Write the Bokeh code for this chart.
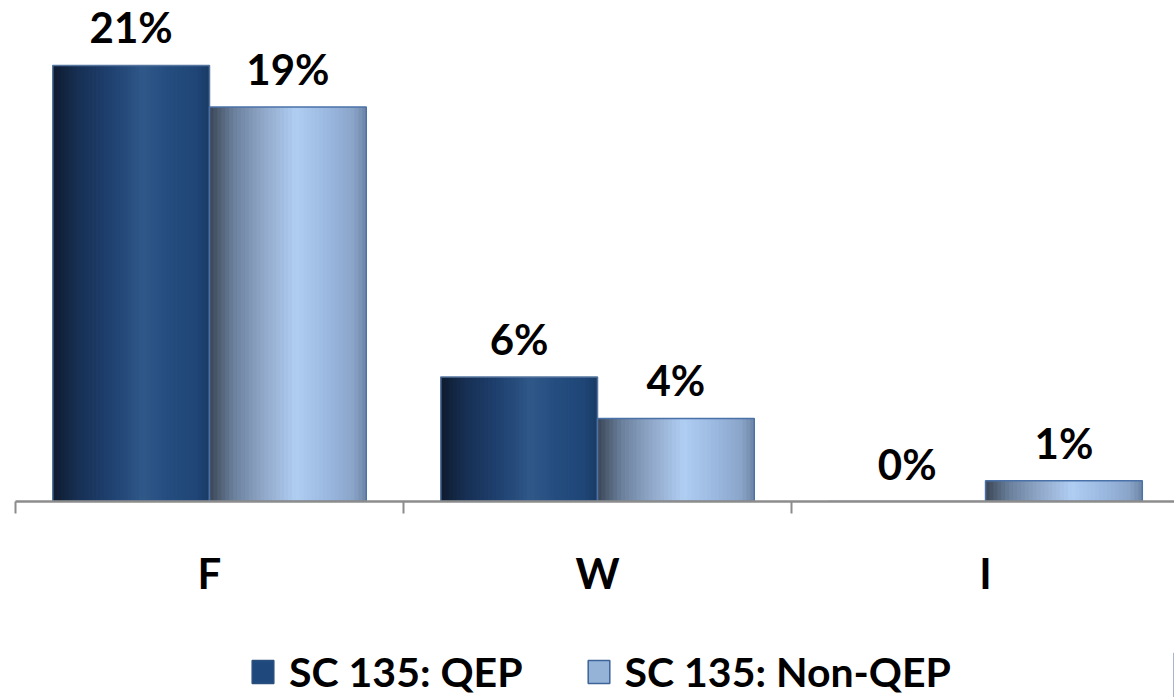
import numpy as np
from bokeh.plotting import figure
from bokeh.layouts import column
from bokeh.models import Range1d, FixedTicker, Legend, LegendItem, ColumnDataSource
from bokeh.core.properties import value
from bokeh.embed import file_html
from bokeh.resources import INLINE

# ---- data ----
categories = ["F", "W", "I"]
series_names = ["SC 135: QEP", "SC 135: Non-QEP"]
qep = [21, 6, 0]
non_qep = [19, 4, 1]
qep_labels = ["21%", "6%", "0%"]
non_qep_labels = ["19%", "4%", "1%"]

# ---- style ----
BAR_W = 0.404
N_STRIPS = 40
FONT = value("Lato")
qep_stops = [(0.0, "#0e1a2e"), (0.15, "#172f52"), (0.38, "#1f4271"), (0.58, "#30598a"),
             (0.72, "#254d7f"), (0.92, "#1f4677"), (1.0, "#1a3a64")]
non_stops = [(0.0, "#3b4656"), (0.15, "#6a7f9b"), (0.35, "#91a9ca"), (0.55, "#b0cdf2"),
             (0.75, "#9bb8e0"), (0.92, "#8aa4c8"), (1.0, "#6c85a6")]


def hex2rgb(h):
    return np.array([int(h[i:i + 2], 16) for i in (1, 3, 5)], dtype=float)


def gradient(stops, n):
    pos = np.array([s[0] for s in stops])
    cols = np.array([hex2rgb(s[1]) for s in stops])
    t = (np.arange(n) + 0.5) / n
    out = []
    for tt in t:
        rgb = [np.interp(tt, pos, cols[:, c]) for c in range(3)]
        out.append("#%02x%02x%02x" % tuple(int(round(v)) for v in rgb))
    return out


centers = np.arange(len(categories)) + 0.5
qep_x = centers - BAR_W / 2
non_x = centers + BAR_W / 2

p = figure(width=1174, height=608, output_backend="svg", toolbar_location=None,
           x_range=Range1d(0, 2.987), y_range=Range1d(0, 24.13),
           min_border_left=15, min_border_right=0, min_border_top=0, min_border_bottom=107)
p.outline_line_color = None
p.grid.visible = False
p.yaxis.visible = False


def draw_series(xs, vals, stops, outline_color):
    cols = gradient(stops, N_STRIPS)
    sl, sr, st, sc = [], [], [], []
    sw = BAR_W / N_STRIPS
    for x0, v in zip(xs, vals):
        left = x0 - BAR_W / 2
        right = x0 + BAR_W / 2
        for k in range(N_STRIPS):
            sl.append(left + k * sw)
            sr.append(min(left + (k + 2) * sw, right))
            st.append(v)
            sc.append(cols[k])
    src = ColumnDataSource(dict(left=sl, right=sr, top=st, color=sc))
    p.quad(left="left", right="right", top="top", bottom=0, fill_color="color",
           line_color=None, source=src)
    p.vbar(x=list(xs), top=vals, width=BAR_W, bottom=0, fill_color=None,
           line_color=outline_color, line_width=1.5)


draw_series(qep_x, qep, qep_stops, "#56769f")
draw_series(non_x, non_qep, non_stops, "#4a72a8")

# value labels
for xs, vals, labs in ((qep_x, qep, qep_labels), (non_x, non_qep, non_qep_labels)):
    p.text(x=list(xs), y=vals, text=labs, text_align="center",
           text_baseline="alphabetic", y_offset=-38, text_font=FONT,
           text_font_style="bold", text_font_size="42px", text_color="black")

ax = p.xaxis[0]
ax.ticker = FixedTicker(ticks=list(centers), minor_ticks=list(range(len(categories) + 1)))
ax.major_label_overrides = {float(c): lab for c, lab in zip(centers, categories)}
ax.major_tick_line_color = None
ax.minor_tick_line_color = "#8c8c8c"
ax.minor_tick_line_width = 2
ax.minor_tick_out = 12
ax.minor_tick_in = 0
ax.axis_line_color = "#8c8c8c"
ax.axis_line_width = 2.5
ax.major_label_standoff = 34
ax.major_label_text_font = "Lato"
ax.major_label_text_font_style = "bold"
ax.major_label_text_font_size = "42px"
ax.major_label_text_color = "black"

# legend figure
p2 = figure(width=1174, height=89, output_backend="svg", toolbar_location=None,
            x_range=Range1d(0, 1), y_range=Range1d(0, 1),
            min_border_left=0, min_border_right=0, min_border_top=0, min_border_bottom=0)
p2.axis.visible = False
p2.grid.visible = False
p2.outline_line_color = None
hidden = ColumnDataSource(dict(x=[5.0], top=[0.5]))
r_qep = p2.vbar(x="x", top="top", width=0.1, source=hidden,
                fill_color="#1f497d", line_color="#2a4f7f", line_width=1.5)
r_non = p2.vbar(x="x", top="top", width=0.1, source=hidden,
                fill_color="#95b3d7", line_color="#3d6399", line_width=1.5)
legend = Legend(items=[LegendItem(label=series_names[0], renderers=[r_qep]),
                       LegendItem(label=series_names[1], renderers=[r_non])],
                orientation="horizontal", location=(234, 1),
                glyph_width=27, glyph_height=29, label_standoff=13, spacing=62,
                label_text_font="Lato", label_text_font_style="bold",
                label_text_font_size="41px", label_text_color="black",
                border_line_color=None, padding=0, margin=0,
                background_fill_alpha=0)
p2.add_layout(legend, "center")

layout = column(p, p2, spacing=0)
open("out.html", "w").write(file_html(layout, INLINE))
